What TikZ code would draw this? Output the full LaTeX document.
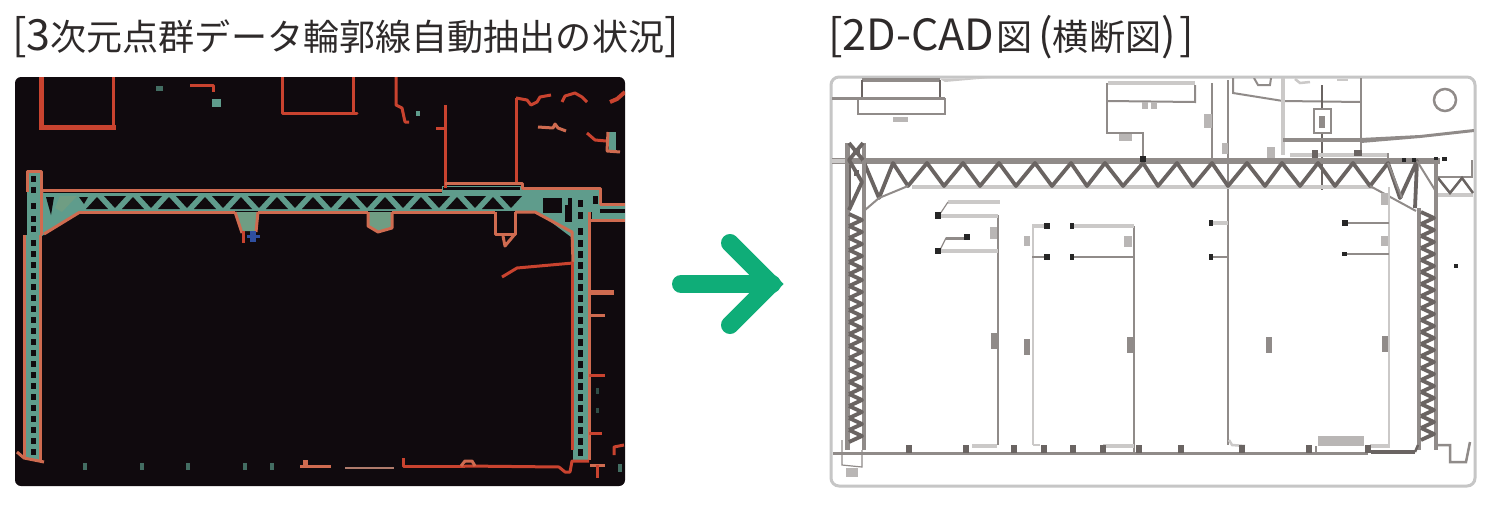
\documentclass[tikz,border=0pt]{standalone}
\usepackage{fontspec}
\setmainfont{Noto Sans CJK JP}
\definecolor{panelk}{HTML}{100A0E}
\definecolor{rd}{HTML}{C9432F}
\definecolor{sal}{HTML}{CF6B50}
\definecolor{tealc}{HTML}{5F9C8C}
\definecolor{olive}{HTML}{6F9D83}
\definecolor{blu}{HTML}{2F4FA0}
\definecolor{gd}{HTML}{6A6462}
\definecolor{gm}{HTML}{908B89}
\definecolor{gl}{HTML}{CBC9C8}
\definecolor{frame}{HTML}{C6C6C6}
\definecolor{arrowg}{HTML}{0FAD78}
\definecolor{ink}{HTML}{2E2A2A}
\newcommand{\latn}[1]{{\fontsize{43}{48}\selectfont #1}}
\tikzset{
 titletext/.style={anchor=west,text=ink,inner sep=0pt,font=\fontsize{36.1}{40}\selectfont},
 redline/.style={draw=rd,line width=3pt,line join=round},
 redthick/.style={draw=rd,line width=5pt,line join=miter},
 salline/.style={draw=sal,line width=3pt,line join=round},
 cdark/.style={draw=gd,line width=2.5pt},
 czig/.style={draw=gd,line width=3.8pt,line join=round},
 cmid/.style={draw=gm,line width=2.5pt},
 cmidt/.style={draw=gm,line width=2pt},
 clight/.style={draw=gl,line width=4.5pt},
 clightt/.style={draw=gl,line width=2.5pt},
 colside/.style={draw=gm,line width=4.5pt},
 blob/.style={fill=gl!70!gm,draw=none},
 dotk/.style={fill=black!85,draw=none},
}
\begin{document}
\begin{tikzpicture}[x=1pt,y=-1pt]
\useasboundingbox (0,0) rectangle (1500,506);
\fill[white] (0,0) rectangle (1500,506);
\node[titletext] (title1) at (12,37) {\latn{[3}次元点群データ輪郭線自動抽出の状況\latn{]}};
\node[titletext] (title2) at (828,37) {\latn{[2D-CAD}\hspace{2pt}図\hspace{6pt}\latn{(}横断図\latn{)}\hspace{4pt}\latn{]}};

%% left panel
\fill[panelk,rounded corners=6pt] (15,77) rectangle (625,486);
\begin{scope}
\clip[rounded corners=6pt] (15,77) rectangle (625,486);
% teal body
\fill[tealc] (30,193) rectangle (592,211);
\fill[tealc] (27,171) rectangle (41,240);
\fill[tealc] (26,235) rectangle (39,460);
\fill[tealc] (42,192)--(82,211)--(42,236)--cycle;
\fill[tealc] (442,186) rectangle (522,195);
\fill[tealc] (515,190) rectangle (600,212);
\fill[tealc] (535,210)--(575,210)--(575,240)--cycle;
\fill[tealc] (573,190) rectangle (589,462);
\fill[tealc] (592,205) rectangle (625,219);
\fill[olive] (60,196)--(77,196)--(62,212)--(55,208)--cycle;
% beam triangles
\foreach \x in {97,133,169,205,241,277,313,349,385,421,457,493}{
  \fill[panelk] (\x-11,209)--(\x,197)--(\x+11,209)--cycle;
  \fill[panelk] (\x+7,196)--(\x+29,196)--(\x+18,208)--cycle;
}
\fill[panelk] (46,197)--(54,197)--(51,215)--cycle;
\fill[panelk] (79,197)--(88,197)--(84,204)--cycle;
\fill[panelk] (443,187) rectangle (520,190);
\fill[panelk] (543,198) rectangle (562,213);
\fill[panelk] (568,198) rectangle (572,222);
\fill[panelk] (593,196) rectangle (598,204);
\fill[panelk] (600,209) rectangle (625,213);
% column holes
\foreach \y in {176,187,203,216,226,240,251,262,273,284,295,306,317,328,339,350,361,372,383,394,405,416,427,438,449}{
  \fill[panelk] (31,\y) rectangle (36,\y+6);
}
\foreach \y in {200,212,228,240,251,262,273,284,295,306,317,328,339,350,361,372,383,394,405,416,427,438,449}{
  \fill[panelk] (578,\y) rectangle (583,\y+7);
}
\fill[panelk] (565,205) rectangle (572,222);
% reds top
\draw[redthick] (41,77)--(41,127)--(116,127);
\draw[redline] (113,77)--(113,127);
\draw[redline] (282,77)--(282,113)--(357,113)--(353,113)--(353,77);
\draw[redline] (190,85)--(213,85)--(213,92);
\fill[tealc] (212,99) rectangle (221,107);
\fill[tealc!70!black] (156,86) rectangle (163,91);
\draw[redline] (396,77)--(396,105)--(402,108)--(405,122)--(409,122);
\fill[tealc] (416,111) rectangle (420,116);
\draw[redline] (445,105)--(445,188);
\draw[redline] (436,128)--(445,128);
\draw[redline] (516,98)--(516,183);
\draw[redline] (516,98)--(527,100)--(531,105)--(537,102)--(540,97)--(551,95);
\draw[redline] (562,102)--(565,96)--(575,93)--(582,97)--(587,102);
\draw[draw=rd,line width=4pt] (610,102)--(617,99)--(625,92);
\draw[salline] (538,127)--(553,128)--(555,124)--(558,128)--(566,131);
\draw[redline] (587,133)--(595,140)--(606,141);
\fill[tealc] (609,132) rectangle (616,150);
\draw[salline] (608,132)--(607,151)--(620,152);
% beam outline
\draw[salline] (27,192)--(27,171)--(41,171)--(41,190)--(442,190);
\draw[salline] (80,212)--(235,212);
\draw[salline] (80,212)--(44,234);
\draw[salline] (258,212)--(368,212);
\draw[salline] (392,212)--(495,212);
\draw[salline] (515,212)--(535,212)--(572,232)--(573,262);
\draw[salline] (445,183)--(522,183)--(522,188)--(600,188)--(600,204)--(625,204);
\draw[salline] (588,220)--(625,220);
% bump 1
\fill[olive] (236,212)--(258,212)--(255,231)--(242,231)--cycle;
\draw[salline] (235,212)--(242,233);
\draw[salline] (258,212)--(256,232);
\draw[draw=rd,line width=3pt] (243,231)--(243,243);
\fill[blu] (250,231) rectangle (256,242);
\fill[blu] (247,235) rectangle (260,238);
% bump 2
\fill[olive] (368,212)--(392,212)--(392,228)--(378,232)--(368,226)--cycle;
\draw[salline] (368,212)--(368,226)--(378,232)--(392,228)--(392,212);
% box 3
\fill[panelk] (497,212) rectangle (513,232);
\draw[salline] (495,212)--(495,234)--(515,234)--(515,212);
\draw[salline] (503,236)--(505,246)--(515,234);
% columns outline
\draw[salline] (41,190)--(41,235);
\draw[salline] (24,235)--(24,458);
\draw[salline] (40,235)--(40,460);
\draw[salline] (17,452)--(24,458)--(44,462);
\draw[redline] (572,262)--(572,450);
\draw[salline] (589,212)--(589,460);
\draw[redline] (502,277)--(517,268)--(573,263);
% right ticks
\draw[draw=sal,line width=5pt] (589,292)--(614,292);
\draw[salline] (589,315)--(605,315);
\draw[redline] (589,375)--(605,375);
\draw[redline] (589,433)--(602,433);
\draw[redline] (614,455)--(614,447)--(624,445);
\draw[salline] (590,465)--(605,465);
\draw[redline] (597,465)--(597,478);
\fill[tealc!70!black] (618,464) rectangle (622,472);
\fill[tealc!50!black] (596,388) rectangle (599,394);
\fill[tealc!50!black] (596,408) rectangle (599,413);
% floor
\foreach \x in {85,142,188,245,272}{\fill[tealc!70!black] (\x-2,463) rectangle (\x+2,470);}
\draw[salline] (300,466)--(331,466);
\fill[sal] (303,460) rectangle (308,466);
\draw[draw=gm!50!sal,line width=2.5pt] (345,468)--(394,468);
\draw[redline] (403,458)--(403,466)--(465,466);
\draw[redline] (465,466)--(559,467)--(565,472)--(570,472)--(572,461)--(589,461);
\draw[salline] (461,466)--(465,461)--(472,461)--(475,466);
\end{scope}

%% arrow
\draw[arrowg,line width=18pt,line cap=round,line join=round] (681,284)--(772,284);
\draw[arrowg,line width=18pt,line cap=round,line join=miter] (730,243)--(771,284)--(730,325);

%% right panel
\draw[frame,line width=3pt,fill=white,rounded corners=8pt] (831,77) rectangle (1475,486);
\begin{scope}
\clip[rounded corners=8pt] (832,78) rectangle (1474,485);
% top-left structure
\draw[draw=gm,line width=4pt] (862,80)--(940,80);
\draw[cdark] (862,80)--(862,98);
\draw[cdark] (940,80)--(940,98);
\draw[draw=gm,line width=3pt] (832,98)--(945,98);
\draw[cmidt] (858,98)--(858,114)--(945,114)--(945,98);
\fill[blob] (893,117) rectangle (908,122);
\fill[gl] (940,79)--(990,78)--(945,82)--cycle;
\draw[clight] (1108,83)--(1195,83);
\draw[cmidt] (1107,83)--(1107,133)--(1143,133)--(1143,158);
\draw[cmidt] (1107,101)--(1195,102)--(1195,85);
\fill[blob] (1119,134) rectangle (1132,141);
\fill[blob] (1142,102) rectangle (1148,109);
\fill[blob] (1151,102) rectangle (1157,109);
\draw[cmidt] (1212,83)--(1212,160);
\draw[cmid] (1228,80)--(1228,445);
\fill[blob] (1204,114) rectangle (1212,128);
\fill[blob] (1222,143) rectangle (1228,154);
\draw[cmidt] (1233,78)--(1233,93)--(1283,101)--(1361,102);
\draw[clight] (1283,78)--(1283,155);
\draw[cmidt] (1361,78)--(1361,155);
\draw[cmidt] (1254,78)--(1258,85)--(1270,85)--(1271,78);
\draw[clightt] (1295,79)--(1300,83)--(1310,82);
\draw[clightt] (1337,80)--(1348,80);
\draw[cdark] (1322,85)--(1322,190);
\draw[cmid,fill=white] (1314,109) rectangle (1331,133);
\fill[gm] (1319,116) rectangle (1325,128);
\draw[draw=gm,line width=4pt] (1283,140)--(1361,140);
\fill[gm] (1361,138)--(1420,135)--(1474,129)--(1474,132)--(1420,138)--(1361,143)--cycle;
\draw[clight] (1290,155)--(1388,155);
\draw[cmidt] (1388,153)--(1388,160);
\fill[gd] (1312,150) rectangle (1318,158);
\fill[gd] (1354,150) rectangle (1362,156);
\fill[blob] (1267,147) rectangle (1275,158);
\draw[draw=gm,line width=2.5pt] (1445,100) circle (11);
% beam
\draw[draw=gm,line width=5.5pt] (832,161)--(1440,161);
\draw[clight] (832,161)--(846,161);
\draw[clight] (912,187)--(1373,187);
\draw[czig] (863,160)--(879,198)--(893,163)--(908,186)--(927,163)--(944,186)--(963,163)--(980,186)--(999,163)--(1016,186)--(1035,163)--(1052,186)--(1071,163)--(1087,186)--(1105,163)--(1123,186)--(1143,163)--(1158,186)--(1177,163)--(1193,186)--(1212,163)--(1228,186)--(1247,163)--(1265,186)--(1282,163)--(1300,186)--(1318,163)--(1335,186)--(1353,163)--(1370,186)--(1388,163)--(1400,198)--(1417,161)--(1415,208);
\draw[cmidt] (908,186)--(879,198)--(865,210);
\draw[cmidt] (1370,186)--(1416,211);
\draw[cmidt] (1388,163)--(1402,198);
\draw[cmidt] (1417,161)--(1435,190);
\fill[dotk] (1402,158) rectangle (1406,162);
\fill[dotk] (1412,158) rectangle (1416,162);
\fill[dotk] (1434,157) rectangle (1438,162);
\fill[dotk] (1442,157) rectangle (1447,161);
\fill[dotk] (1140,156) rectangle (1146,162);
% right stub
\draw[cmid] (1438,177)--(1473,177);
\draw[clight] (1438,195)--(1473,195);
\draw[cdark] (1438,178)--(1450,193)--(1462,178)--(1473,193);
\draw[cmidt] (1472,160)--(1472,177);
% columns
\draw[colside] (847.5,143)--(847.5,450);
\draw[colside] (864,143)--(864,450);
\draw[colside] (1419,208)--(1419,450);
\draw[colside] (1436,160)--(1436,450);
\draw[czig] (849,143)--(863,160);
\draw[czig] (863,143)--(849,160)--(862,182)--(849,210);
\draw[draw=gd,line width=2.5pt] (850,165)--(850,210);
\fill[gd] (853,148) rectangle (860,154);
\fill[gd] (854,170) rectangle (859,176);
\foreach \y in {214,226,...,438}{
 \draw[czig] (849,\y)--(862,\y+6)--(849,\y+12);
}
\foreach \y in {212,224,...,438}{
 \draw[czig] (1421,\y)--(1434,\y+6)--(1421,\y+12);
}
% foot
\draw[draw=gm,line width=1.2pt] (842,440)--(842,465)--(862,467)--(862,450);
\fill[blob] (846,468) rectangle (858,477);
% interior walls
\draw[cmid] (998,215)--(998,445);
\draw[clightt] (1033,226)--(1033,445);
\draw[cmid] (1134,226)--(1134,453);
\draw[clightt] (1389,187)--(1389,445);
% dimension bars
\draw[clight] (940,216)--(998,216);
\draw[clight] (940,251)--(998,251);
\draw[clight] (948,202)--(1000,202);
\draw[draw=gm,line width=1.2pt] (940,214)--(948,202);
\draw[draw=gm,line width=1.2pt] (940,250)--(946,238)--(967,238);
\draw[draw=gm,line width=3pt] (946,238)--(965,238);
\fill[dotk] (935,212) rectangle (941,219);
\fill[dotk] (935,248) rectangle (941,254);
\fill[dotk] (964,234) rectangle (970,240);
\draw[clight] (1032,226)--(1046,226);
\draw[cmidt] (1032,257)--(1046,257);
\fill[dotk] (1044,223) rectangle (1050,229);
\fill[dotk] (1044,254) rectangle (1050,260);
\fill[dotk] (1070,223) rectangle (1074,229);
\fill[dotk] (1070,254) rectangle (1074,260);
\draw[clight] (1074,226)--(1134,226);
\draw[cmidt] (1074,257)--(1134,257);
\draw[clight] (1212,223)--(1228,223);
\draw[cmidt] (1212,257)--(1228,257);
\fill[dotk] (1209,220) rectangle (1213,226);
\fill[dotk] (1209,254) rectangle (1213,260);
\draw[cmidt] (1345,223)--(1389,223);
\draw[cmidt] (1345,254)--(1389,254);
\fill[dotk] (1342,220) rectangle (1348,226);
\fill[dotk] (1342,252) rectangle (1347,256);
\fill[dotk] (1454,264) rectangle (1458,268);
% dim labels
\fill[blob] (990,227) rectangle (997,239);
\fill[blob] (1024,236) rectangle (1030,246);
\fill[blob] (1124,236) rectangle (1132,247);
\fill[blob] (1381,193) rectangle (1388,205);
\fill[blob] (1381,236) rectangle (1388,246);
\fill[gm] (991,333) rectangle (997,349);
\fill[gm] (1024,339) rectangle (1030,355);
\fill[gm] (1127,337) rectangle (1133,353);
\fill[gm] (1266,337) rectangle (1272,353);
\fill[gm] (1382,336) rectangle (1388,352);
% bottom bars
\draw[clight] (972,446)--(997,446);
\draw[clightt] (1033,445)--(1040,445);
\draw[clight] (1103,446)--(1134,446);
\draw[clightt] (1229,440)--(1232,445)--(1245,446);
\draw[clight] (1370,446)--(1390,446);
\fill[blob] (1318,436) rectangle (1364,446);
\draw[draw=gm,line width=1.2pt] (1316,446)--(1316,452);
% floor
\draw[draw=gm,line width=3pt] (833,453)--(1368,453);
\draw[draw=gd,line width=4pt] (1371,452)--(1415,452);
\foreach \x in {909,966,1014,1044,1073,1103,1139,1181,1242,1309,1368}{
 \fill[gd] (\x-3,445) rectangle (\x+3,453);
}
\draw[draw=gd,line width=2.5pt] (1415,452)--(1418,445);
\draw[draw=gm,line width=2.5pt] (1438,445)--(1450,445)--(1450,462)--(1466,462)--(1470,442);
\end{scope}
\end{tikzpicture}
\end{document}
